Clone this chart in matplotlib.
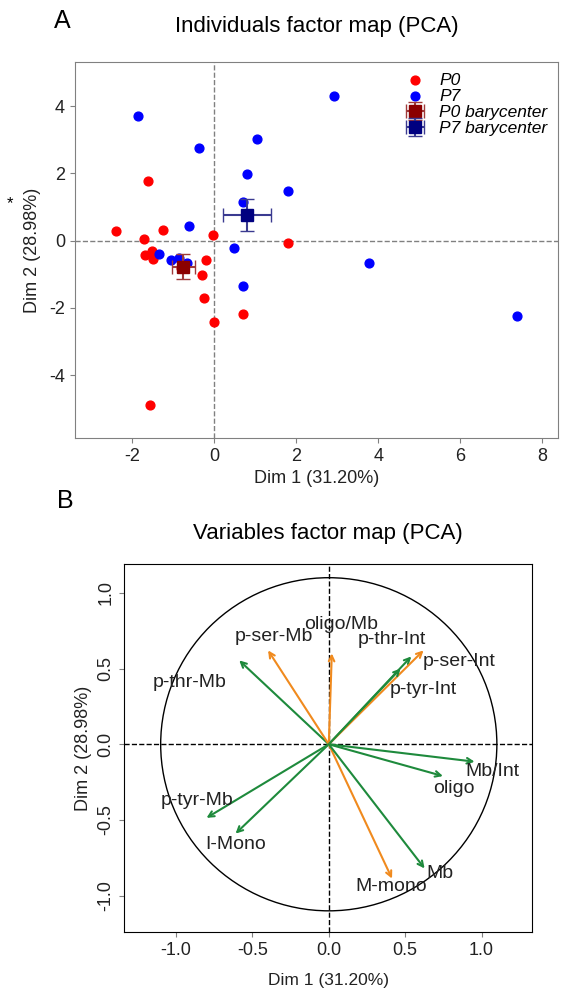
import matplotlib.pyplot as plt
import numpy as np
from matplotlib.patches import Circle

plt.rcParams['font.family'] = ['Liberation Sans', 'DejaVu Sans']
plt.rcParams['axes.unicode_minus'] = False

# --- panel A: individuals ---
p0_x = [-1.62, -2.40, -1.72, -1.24, -0.03, 1.81, -1.69, -1.53, -1.50, -0.19,
        -0.30, -0.24, 0.69, 0.00, -1.57, -0.82]
p0_y = [1.76, 0.29, 0.05, 0.33, 0.17, -0.08, -0.44, -0.32, -0.56, -0.57,
        -1.01, -1.70, -2.17, -2.43, -4.89, -0.81]
p7_x = [-1.87, -0.37, 2.92, 1.05, 0.79, 1.79, 0.70, -0.62, 0.47, -1.36,
        -1.06, -0.85, -0.67, 0.69, 3.77, 7.39]
p7_y = [3.72, 2.77, 4.31, 3.01, 1.99, 1.48, 1.16, 0.44, -0.21, -0.40,
        -0.59, -0.52, -0.66, -1.35, -0.66, -2.24]
bary_x = [-0.76, 0.80]
bary_y = [-0.77, 0.77]
bary_xerr = [0.28, 0.58]
bary_yerr = [0.37, 0.48]

# --- panel B: variables ---
var_names = ['p-thr-Mb', 'p-ser-Mb', 'oligo/Mb', 'p-thr-Int', 'p-ser-Int', 'p-tyr-Int',
             'Mb/Int', 'oligo', 'p-tyr-Mb', 'I-Mono', 'M-mono', 'Mb']
var_x = [-0.586, -0.397, 0.02, 0.54, 0.62, 0.47, 0.954, 0.747, -0.80, -0.61, 0.414, 0.627]
var_y = [0.554, 0.62, 0.60, 0.58, 0.62, 0.50, -0.115, -0.21, -0.486, -0.59, -0.887, -0.82]
var_group = ['g', 'o', 'o', 'g', 'o', 'g', 'g', 'g', 'g', 'g', 'o', 'g']
lab_x = [-0.91, -0.36, 0.083, 0.41, 0.856, 0.617, 1.07, 0.82, -0.865, -0.61, 0.41, 0.725]
lab_y = [0.41, 0.71, 0.79, 0.69, 0.547, 0.36, -0.18, -0.29, -0.37, -0.66, -0.94, -0.855]

fig = plt.figure(figsize=(5.67, 9.91), dpi=100)

# panel A
ax1 = fig.add_axes([0.132, 0.558, 0.852, 0.379])
ax1.axhline(0, color='gray', ls='--', lw=1)
ax1.axvline(0, color='gray', ls='--', lw=1)
ax1.scatter(p0_x, p0_y, color='#ff0000', s=40, zorder=3, label='P0')
ax1.scatter(p7_x, p7_y, color='#0000ff', s=40, zorder=3, label='P7')
ax1.errorbar(bary_x[0], bary_y[0], xerr=bary_xerr[0], yerr=bary_yerr[0], fmt='s',
             color='#8b0000', ecolor='#a03a3a', ms=8, capsize=5, elinewidth=1.5,
             zorder=4, label='P0 barycenter')
ax1.errorbar(bary_x[1], bary_y[1], xerr=bary_xerr[1], yerr=bary_yerr[1], fmt='s',
             color='#000080', ecolor='#3a3a90', ms=8, capsize=5, elinewidth=1.5,
             zorder=4, label='P7 barycenter')
ax1.set_xlim(-3.4, 8.38)
ax1.set_ylim(-5.87, 5.3)
ax1.set_xticks([-2, 0, 2, 4, 6, 8])
ax1.set_yticks([-4, -2, 0, 2, 4])
for s in ax1.spines.values():
    s.set_color('gray')
ax1.tick_params(colors='gray', labelcolor='#222222', labelsize=13)
ax1.set_xlabel('Dim 1 (31.20%)', fontsize=13, color='#222222')
ax1.set_ylabel('Dim 2 (28.98%)', fontsize=13, color='#222222', labelpad=6)
ax1.set_title('Individuals factor map (PCA)', fontsize=16, pad=22)
leg = ax1.legend(loc='upper right', frameon=False, fontsize=12.5, handletextpad=0.4,
                 labelspacing=0.05, borderaxespad=0.2)
for t in leg.get_texts():
    t.set_fontstyle('italic')
fig.text(0.012, 0.79, '*', fontsize=12)
fig.text(0.095, 0.972, 'A', fontsize=18)

# panel B
ax2 = fig.add_axes([0.2187, 0.0595, 0.7196, 0.3713])
ax2.axhline(0, color='black', ls='--', lw=1)
ax2.axvline(0, color='black', ls='--', lw=1)
ax2.add_patch(Circle((0, 0), 1.1, fill=False, color='black', lw=1))
cols = {'g': '#1e8a3c', 'o': '#f08a1e'}
for i in range(len(var_names)):
    ax2.annotate('', xy=(var_x[i], var_y[i]), xytext=(0, 0),
                 arrowprops=dict(arrowstyle='->', color=cols[var_group[i]], lw=1.5,
                                 shrinkA=0, shrinkB=0))
    ax2.text(lab_x[i], lab_y[i], var_names[i], ha='center', va='center', fontsize=14,
             color='#222222')
ax2.set_xlim(-1.34, 1.33)
ax2.set_ylim(-1.24, 1.19)
ax2.set_xticks([-1.0, -0.5, 0.0, 0.5, 1.0])
ax2.set_yticks([-1.0, -0.5, 0.0, 0.5, 1.0])
ax2.tick_params(colors='gray', labelcolor='#222222', labelsize=13)
for lbl in ax2.get_yticklabels():
    lbl.set_rotation(90)
    lbl.set_va('center')
ax2.set_xlabel('Dim 1 (31.20%)', fontsize=12.5, color='#222222', labelpad=10)
ax2.set_ylabel('Dim 2 (28.98%)', fontsize=13, color='#222222')
ax2.set_title('Variables factor map (PCA)', fontsize=16, pad=18)
fig.text(0.1, 0.487, 'B', fontsize=18)

fig.savefig('out.png', dpi=100)
